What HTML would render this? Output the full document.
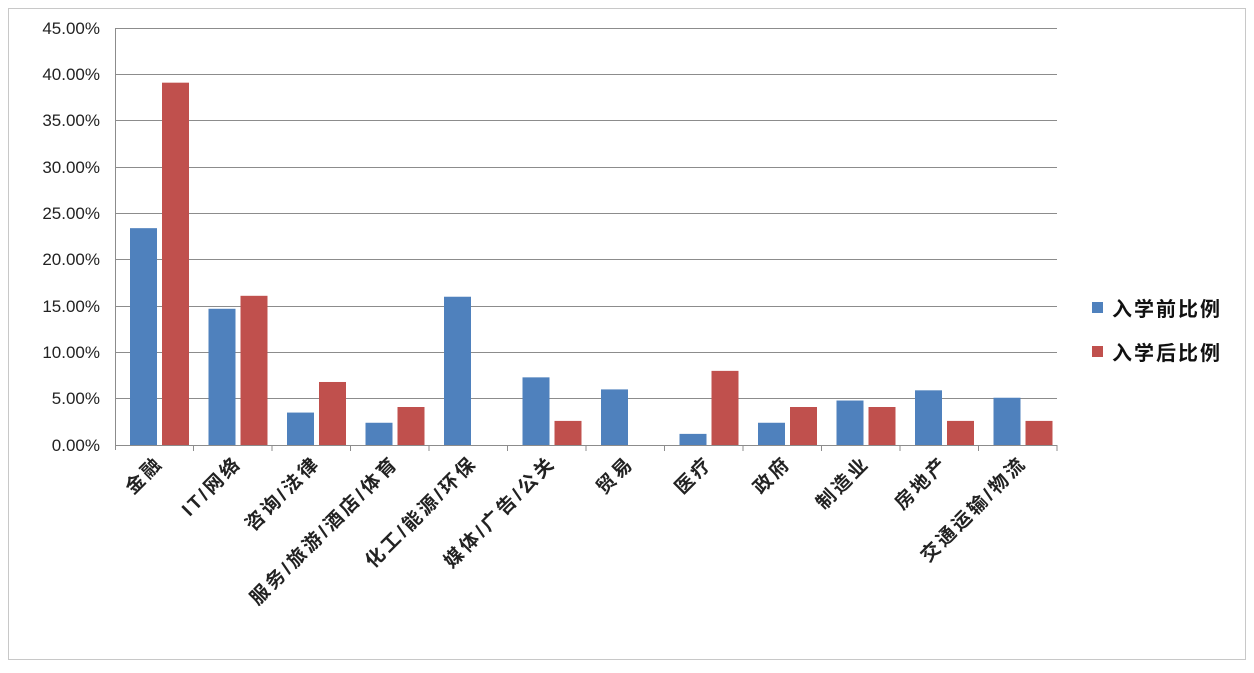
<!DOCTYPE html>
<html><head><meta charset="utf-8"><style>
body{margin:0;background:#fff;}
svg text{font-family:"Liberation Sans","Noto Sans CJK SC",sans-serif;}
</style></head><body>
<svg width="1254" height="668" xmlns="http://www.w3.org/2000/svg">
<rect x="8.5" y="8.5" width="1237" height="651" fill="#fff" stroke="#c8c8c8"/>
<g stroke="#8c8c8c" stroke-width="1">
<line x1="115" y1="28.5" x2="1057" y2="28.5"/>
<line x1="115" y1="74.5" x2="1057" y2="74.5"/>
<line x1="115" y1="120.5" x2="1057" y2="120.5"/>
<line x1="115" y1="167.5" x2="1057" y2="167.5"/>
<line x1="115" y1="213.5" x2="1057" y2="213.5"/>
<line x1="115" y1="259.5" x2="1057" y2="259.5"/>
<line x1="115" y1="306.5" x2="1057" y2="306.5"/>
<line x1="115" y1="352.5" x2="1057" y2="352.5"/>
<line x1="115" y1="398.5" x2="1057" y2="398.5"/>
<line x1="115" y1="445.5" x2="1057" y2="445.5"/>
<line x1="115.5" y1="28" x2="115.5" y2="450"/>
</g>
<g font-size="17" fill="#222" text-anchor="end">
<text x="100" y="34">45.00%</text><text x="100" y="80">40.00%</text><text x="100" y="126">35.00%</text>
<text x="100" y="173">30.00%</text><text x="100" y="219">25.00%</text><text x="100" y="265">20.00%</text>
<text x="100" y="312">15.00%</text><text x="100" y="358">10.00%</text><text x="100" y="404">5.00%</text>
<text x="100" y="451">0.00%</text>
</g>
<g id="bars"></g>
<g id="labels" font-size="19" font-weight="bold" letter-spacing="3" fill="#222" text-anchor="end"></g>
<rect x="1092" y="302" width="11" height="11" fill="#4f81bd"/>
<text x="1112" y="316" font-size="20" letter-spacing="2" font-weight="bold" fill="#111">入学前比例</text>
<rect x="1092" y="346" width="11" height="11" fill="#c0504d"/>
<text x="1112" y="360" font-size="20" letter-spacing="2" font-weight="bold" fill="#111">入学后比例</text>
</svg>
<script>
var d=[["金融",23.4,39.1],["IT/网络",14.7,16.1],["咨询/法律",3.5,6.8],["服务/旅游/酒店/体育",2.4,4.1],["化工/能源/环保",16.0,0],["媒体/广告/公关",7.3,2.6],["贸易",6.0,0],["医疗",1.2,8.0],["政府",2.4,4.1],["制造业",4.8,4.1],["房地产",5.9,2.6],["交通运输/物流",5.1,2.6]];
var ns="http://www.w3.org/2000/svg",b=document.getElementById("bars"),l=document.getElementById("labels");
var w=942/12,s=417/45;
d.forEach(function(r,i){var x0=115+i*w;
[[r[1],15,"#4f81bd"],[r[2],47,"#c0504d"]].forEach(function(v){if(!v[0])return;var e=document.createElementNS(ns,"rect");var h=v[0]*s;e.setAttribute("x",x0+v[1]);e.setAttribute("y",445-h);e.setAttribute("width",27);e.setAttribute("height",h);e.setAttribute("fill",v[2]);b.appendChild(e);});
var t=document.createElementNS(ns,"line");t.setAttribute("x1",x0+w);t.setAttribute("x2",x0+w);t.setAttribute("y1",445);t.setAttribute("y2",451);t.setAttribute("stroke","#8c8c8c");b.appendChild(t);
var tx=document.createElementNS(ns,"text");var cx=x0+w/2+10,cy=464;tx.setAttribute("x",cx);tx.setAttribute("y",cy);tx.setAttribute("transform","rotate(-45 "+cx+" "+cy+")");tx.textContent=r[0];l.appendChild(tx);});
</script>
</body></html>
